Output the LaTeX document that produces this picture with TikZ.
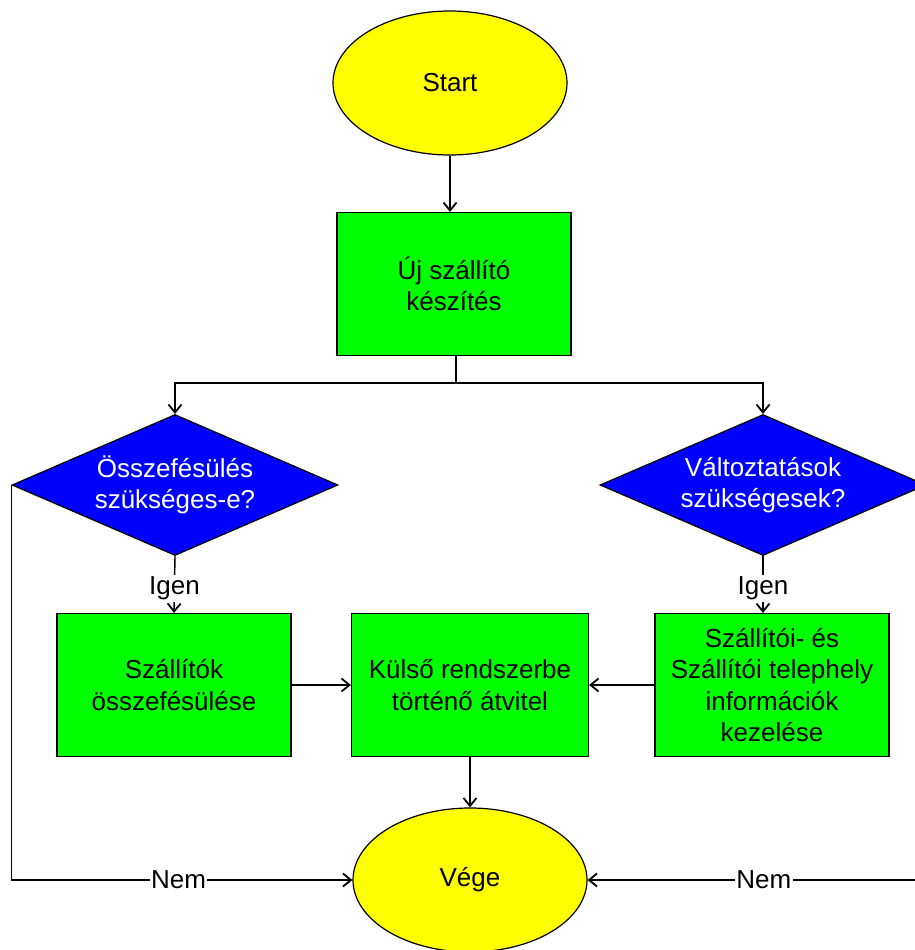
\documentclass[tikz,border=0pt]{standalone}
\usepackage{fontspec}
\setmainfont{Liberation Sans}
\usetikzlibrary{shapes.geometric,arrows.meta}
\definecolor{termfill}{RGB}{255,255,0}
\definecolor{procfill}{RGB}{0,255,0}
\definecolor{decfill}{RGB}{0,0,255}
\tikzset{
  txt/.style={font=\fontsize{26}{31.5}\selectfont},
  base/.style={txt, draw=black, line width=1.2pt, align=center, inner sep=0pt},
  term/.style={base, ellipse, fill=termfill, minimum width=234pt, minimum height=144pt},
  proc/.style={base, rectangle, fill=procfill, minimum width=234pt, minimum height=143pt},
  decision/.style={base, diamond, fill=decfill, text=white, aspect=2.3,
    minimum width=326pt, minimum height=141pt},
  flow/.style={draw=black, line width=1.4pt,
    -{Straight Barb[length=8pt,width=13pt,line width=1.8pt]}},
  plain/.style={draw=black, line width=1.4pt},
  lbl/.style={txt, fill=white, inner sep=1.5pt}
}
\begin{document}
\begin{tikzpicture}[x=1pt, y=-1pt]
  \useasboundingbox (0,0) rectangle (915,950);

  % nodes
  \node[term] (start) at (450,83) {Start};
  \node[proc] (new) at (454,284) {Új szállító\\készítés};
  \node[decision] (dmerge) at (175,485) {Összefésülés\\szükséges-e?};
  \node[decision] (dchange) at (763,485) {Változtatások\\szükségesek?};
  \node[proc] (merge) at (174,685) {Szállítók\\összefésülése};
  \node[proc, minimum width=237pt] (ext) at (470,685) {Külső rendszerbe\\történő átvitel};
  \node[proc] (info) at (772,685) {Szállítói- és\\Szállítói telephely\\információk\\kezelése};
  \node[term] (end) at (470,880) {Vége};

  \coordinate (split) at (456,383);

  % connectors
  \draw[flow] (start.south) -- (start.south |- new.north);
  \draw[plain] (new.south -| split) -- (split);
  \draw[flow] (split) -| (dmerge.north);
  \draw[flow] (split) -| (dchange.north);

  \draw[flow] (dmerge.south) -- node[lbl, yshift=-4pt] {Igen} (merge.north);
  \draw[flow] (dchange.south) -- node[lbl, yshift=-4pt] {Igen} (dchange.south |- info.north);

  \draw[flow] (merge.east) -- (ext.west);
  \draw[flow] (info.west) -- (ext.east);
  \draw[flow] (ext.south) -- (end.north);

  \draw[flow] (dmerge.west) |- node[lbl, pos=0.745] {Nem} (end.west);
  \draw[flow] (dchange.east) |- node[lbl, pos=0.74] {Nem} (end.east);
\end{tikzpicture}
\end{document}
